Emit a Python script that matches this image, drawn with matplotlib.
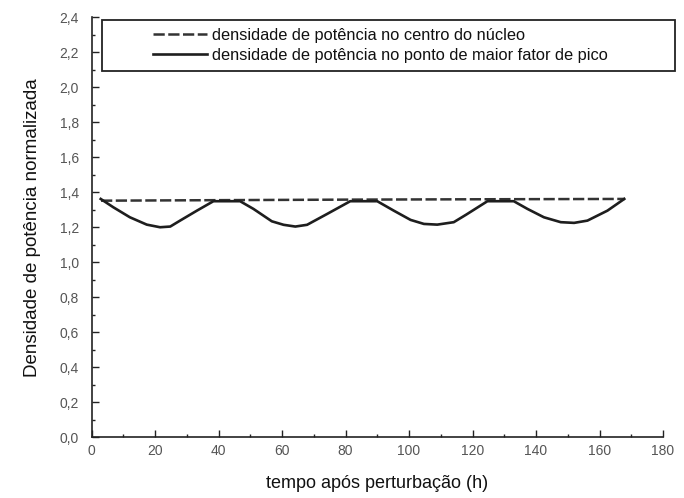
import matplotlib
matplotlib.use("Agg")
from matplotlib import pyplot as plt
from matplotlib.ticker import MultipleLocator, FuncFormatter
import matplotlib.patches as patches

plt.rcParams['font.family'] = ['Liberation Sans', 'DejaVu Sans']

# power density at the core centre (dashed)
t_centro = [3, 40, 80, 120, 168]
p_centro = [1.352, 1.355, 1.358, 1.360, 1.362]

# power density at the highest peaking factor point (solid)
t_pico = [2.9, 6.9, 12.1, 17.4, 21.6, 24.8, 27.9, 33.2, 38.4, 46.8, 51.0, 56.8,
          60.5, 64.2, 67.9, 74.2, 81.5, 90.0, 95.2, 100.5, 104.7, 108.9, 114.1,
          118.0, 124.7, 133.0, 137.3, 142.5, 147.8, 152.0, 156.2, 162.5, 167.8]
p_pico = [1.362, 1.314, 1.257, 1.215, 1.200, 1.204, 1.238, 1.295, 1.349, 1.349,
          1.305, 1.234, 1.214, 1.204, 1.214, 1.276, 1.349, 1.349, 1.295, 1.242,
          1.219, 1.215, 1.229, 1.272, 1.349, 1.349, 1.305, 1.257, 1.229, 1.225,
          1.238, 1.295, 1.362]

lab_centro = "densidade de potência no centro do núcleo"
lab_pico = "densidade de potência no ponto de maior fator de pico"

fig = plt.figure(figsize=(6.84, 4.98), dpi=100)
ax = fig.add_axes([91.5 / 684, 1 - 437 / 498, (663 - 91.5) / 684, (437 - 17.5) / 498])

l1, = ax.plot(t_centro, p_centro, color='#333333', lw=1.8)
l1.set_dashes((4.5, 1.4))
l2, = ax.plot(t_pico, p_pico, color='#1e1e1e', lw=1.9)

ax.set_xlim(0, 180)
ax.set_ylim(0, 2.4)
ax.xaxis.set_major_locator(MultipleLocator(20))
ax.xaxis.set_minor_locator(MultipleLocator(10))
ax.yaxis.set_major_locator(MultipleLocator(0.2))
ax.yaxis.set_minor_locator(MultipleLocator(0.1))
ax.yaxis.set_major_formatter(FuncFormatter(lambda v, p: f"{v:.1f}".replace('.', ',')))

for s in ['top', 'right']:
    ax.spines[s].set_visible(False)
for s in ['left', 'bottom']:
    ax.spines[s].set_linewidth(1.2)
    ax.spines[s].set_color('#222222')

ax.tick_params(which='both', direction='in', color='#222222', width=1.0,
               labelsize=10, labelcolor='#555555')
ax.tick_params(which='major', length=5)
ax.tick_params(which='minor', length=2.5)
ax.tick_params(axis='x', which='major', pad=5)
ax.tick_params(axis='y', which='major', pad=9)

ax.set_xlabel("tempo após perturbação (h)", fontsize=13, color='#111111', labelpad=12)
ax.set_ylabel("Densidade de potência normalizada", fontsize=13.5, color='#111111', labelpad=13)

# legend box
box = patches.Rectangle((101.7 / 684, 1 - 70.7 / 498), (675 - 101.7) / 684, 50.7 / 498,
                        transform=fig.transFigure, fill=False, edgecolor='#222222',
                        linewidth=1.3, zorder=5)
fig.add_artist(box)
fig.legend([l1, l2], [lab_centro, lab_pico], loc='center',
           bbox_to_anchor=((101.7 + 675) / 2 / 684 - 0.012, 1 - 45.5 / 498),
           frameon=False, fontsize=11.8, handlelength=3.3, handletextpad=0.3,
           labelspacing=0.3, labelcolor='#111111')

fig.savefig("out.png", dpi=100)
